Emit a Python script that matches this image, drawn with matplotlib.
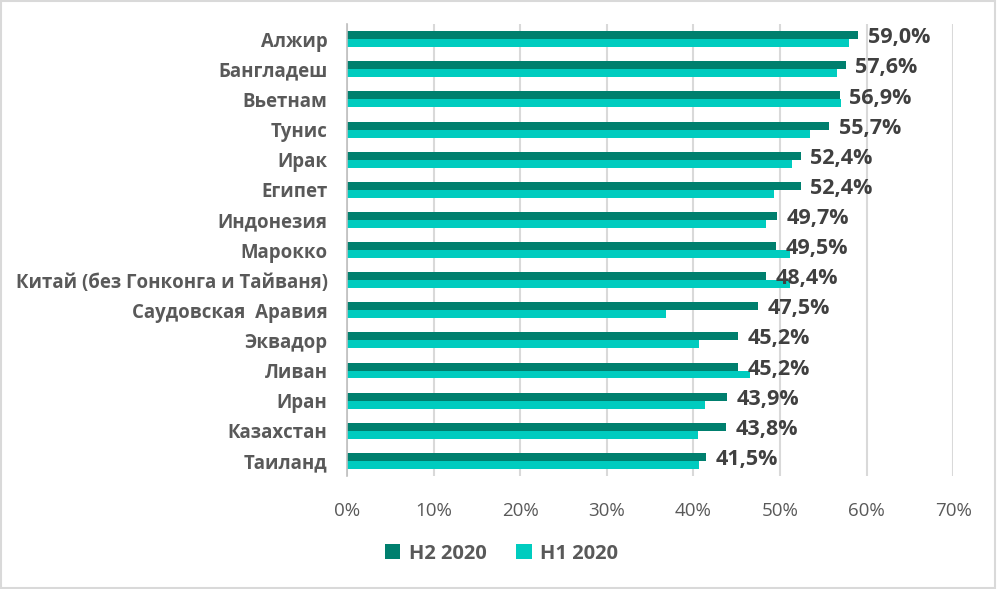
import numpy as np
import matplotlib.pyplot as plt
from matplotlib.patches import Rectangle

plt.rcParams['font.family'] = ['Open Sans', 'DejaVu Sans']

# data
countries = ["Алжир", "Бангладеш", "Вьетнам", "Тунис", "Ирак", "Египет",
             "Индонезия", "Марокко", "Китай (без Гонконга и Тайваня)",
             "Саудовская  Аравия", "Эквадор", "Ливан", "Иран", "Казахстан",
             "Таиланд"]
h2_2020 = [59.0, 57.6, 56.9, 55.7, 52.4, 52.4, 49.7, 49.5, 48.4, 47.5,
           45.2, 45.2, 43.9, 43.8, 41.5]
h1_2020 = [58.0, 56.6, 57.0, 53.5, 51.4, 49.3, 48.4, 51.2, 51.2, 36.9,
           40.7, 46.5, 41.3, 40.5, 40.7]
xticks = [0, 10, 20, 30, 40, 50, 60, 70]

c_h2 = "#007F6E"
c_h1 = "#00CCBF"
grey = "#595959"

fig = plt.figure(figsize=(9.97, 5.89), dpi=100)
ax = fig.add_axes([0.348, 0.192, 0.608, 0.767])

y = np.arange(len(countries))
bh = 0.265
ax.barh(y - bh / 2, h2_2020, height=bh, color=c_h2, label="H2 2020", zorder=2)
ax.barh(y + bh / 2, h1_2020, height=bh, color=c_h1, label="H1 2020", zorder=2)

# labels only on the H2 bars
for yi, v in zip(y, h2_2020):
    ax.annotate(f"{v:.1f}%".replace(".", ","), xy=(v, yi), xytext=(7, 1),
                textcoords="offset points", va="center", ha="left",
                fontsize=15.5, fontweight="bold", color="#404040", zorder=5)

ax.set_xlim(0, 70)
ax.set_ylim(len(countries) - 0.5, -0.5)
ax.set_xticks(xticks)
ax.set_xticklabels([f"{t}%" for t in xticks], fontsize=13.5, color=grey)
ax.set_yticks(y)
ax.set_yticklabels(countries, fontsize=13.4, fontweight="bold", color=grey)
ax.tick_params(axis="both", length=0)
ax.tick_params(axis="x", pad=19)
ax.tick_params(axis="y", pad=14)

ax.grid(axis="x", color="#D9D9D9", linewidth=1.5, zorder=0)
for s in ["top", "right", "bottom"]:
    ax.spines[s].set_visible(False)
ax.spines["left"].set_color("#BFBFBF")
ax.spines["left"].set_linewidth(1.2)
ax.spines["left"].set_zorder(3)

leg = fig.legend(loc="center", bbox_to_anchor=(0.503, 0.06), ncol=2,
                 frameon=False, handlelength=0.75, handleheight=0.75,
                 columnspacing=1.5, handletextpad=0.4,
                 prop={"size": 14.5, "weight": "bold"})
for t in leg.get_texts():
    t.set_color(grey)

fig.patches.append(Rectangle((0.001, 0.001), 0.997, 0.997, transform=fig.transFigure,
                             fill=False, edgecolor="#D9D9D9", linewidth=1.5))

fig.savefig("out.png", dpi=100)
